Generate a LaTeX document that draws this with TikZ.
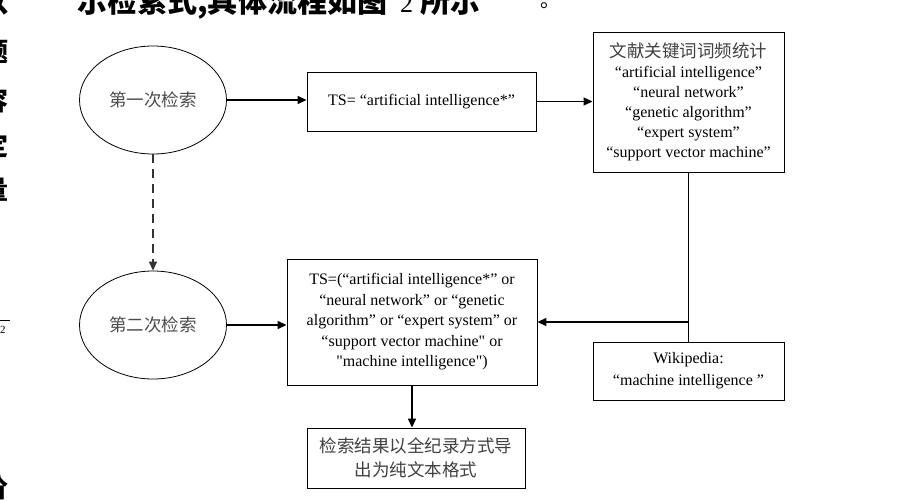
\documentclass[tikz,border=0pt]{standalone}
\usepackage{fontspec}
\setmainfont{Liberation Serif}
\newfontfamily\cjk{Noto Sans CJK SC}
\newfontfamily\sqfont[Ligatures=TeXOff]{Liberation Serif}
\newcommand{\sq}{{\sqfont"}}
\usetikzlibrary{shapes.geometric,arrows.meta}
\tikzset{
  box/.style={draw, rectangle, line width=0.9pt, inner sep=2pt, align=center,
    font=\fontsize{16}{20}\selectfont},
  ell/.style={draw, ellipse, line width=0.8pt, inner sep=0pt,
    minimum width=147pt, minimum height=108pt,
    font=\cjk\fontsize{17.5}{20}\selectfont, text=black!70},
  conn/.style={line width=1.4pt, -{Triangle[length=9pt,width=8pt]}},
  frag/.style={font=\cjk\bfseries\fontsize{26}{26}\selectfont, inner sep=0pt},
  topfrag/.style={font=\cjk\bfseries\fontsize{30}{30}\selectfont, inner sep=0pt, anchor=base west}
}
\begin{document}
\begin{tikzpicture}[x=1pt,y=-1pt]
\useasboundingbox (0,0) rectangle (914,501);
\clip (0,0) rectangle (914,501);
% cropped surrounding page text
\node[topfrag] (toptext) at (77,12.5) {示检索式,具体流程如图};
\node[topfrag, font=\fontsize{26}{26}\selectfont] (toptwo) at (400,12.5) {2};
\node[topfrag] (topend) at (420,12.5) {所示};
\node[frag, font=\cjk\fontsize{20}{20}\selectfont] (topdot) at (550,6) {。};
\node[topfrag, anchor=base east] (f0) at (9,12.5) {以};
\node[frag] (f1) at (-4,52) {题};
\node[frag] (f2) at (-4,100) {容};
\node[frag] (f3) at (-4,145) {定};
\node[frag] (f4) at (-4,190) {量};
\node[frag] (f5) at (-4,240) {，};
\draw[line width=0.6pt] (0,320) -- (10,320);
\node[inner sep=0pt, font=\fontsize{11}{11}\selectfont] (f6) at (3,330) {2};
\node[frag] (f7) at (-4,488) {价};
% main diagram
\node[ell] (e1) at (153,100) {第一次检索};
\node[ell] (e2) at (153,325) {第二次检索};
\node[box, minimum width=229pt, minimum height=59pt] (ts1) at (421.5,101.5)
  {TS= “artificial intelligence*”};
\node[box, minimum width=191pt, minimum height=140pt, inner sep=0pt] (kw) at (688.5,102)
  {{\cjk\fontsize{17.5}{20}\selectfont\color{black!75}文献关键词词频统计}\\
   “artificial intelligence”\\
   “neural network”\\
   “genetic algorithm”\\
   “expert system”\\
   “support vector machine”};
\node[box, minimum width=250pt, minimum height=126pt, font=\fontsize{16}{20.5}\selectfont] (ts2) at (412,322)
  {TS=(“artificial intelligence*” or\\
   “neural network” or “genetic\\
   algorithm” or “expert system” or\\
   “support vector machine\sq{} or\\
   \sq{}machine intelligence\sq)};
\node[box, minimum width=191pt, minimum height=58pt, font=\fontsize{16}{22}\selectfont] (wiki) at (688.5,371)
  {Wikipedia:\\ “machine intelligence ”};
\node[box, minimum width=218pt, minimum height=60pt,
  font=\cjk\fontsize{17.5}{24}\selectfont, text=black!75] (res) at (416,458)
  {检索结果以全纪录方式导\\出为纯文本格式};
% connectors
\draw[conn] (e1.east) -- (e1.east -| ts1.west);
\draw[conn] (ts1.east) -- (ts1.east -| kw.west);
\draw[conn, dashed, dash pattern=on 9pt off 6pt, black!80] (e1.south) -- (e2.north);
\draw[conn] (e2.east) -- (e2.east -| ts2.west);
\coordinate (j) at (kw.south |- ts2.east);
\draw[line width=1.4pt] (kw.south) -- (wiki.north);
\draw[conn] (j) -- (ts2.east);
\draw[conn] (ts2.south) -- (ts2.south |- res.north);
\end{tikzpicture}
\end{document}
